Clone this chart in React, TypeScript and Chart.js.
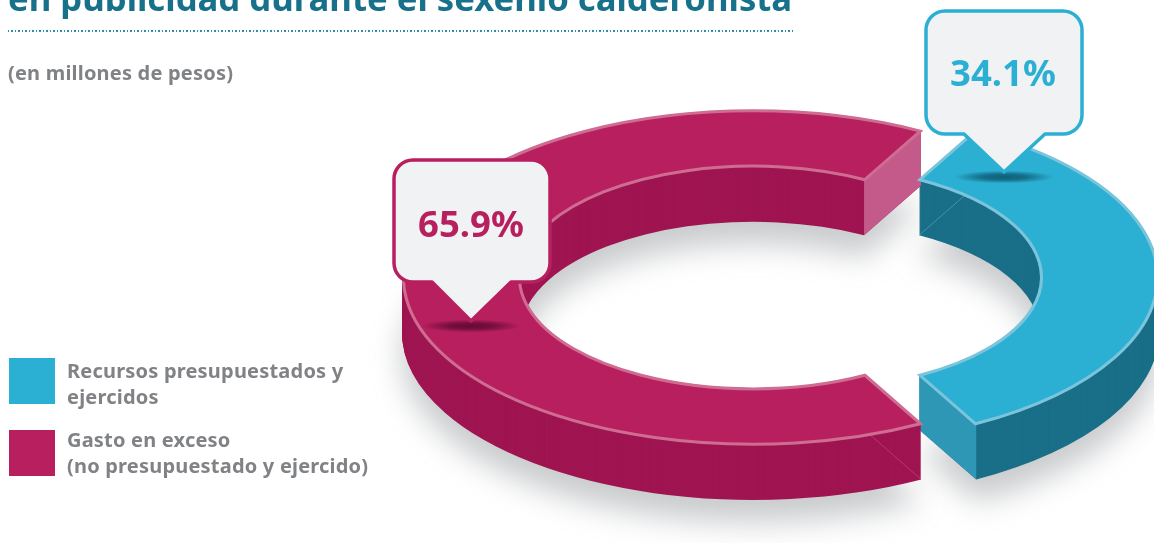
import React, { useEffect, useRef } from "react";
import { Chart, registerables } from "chart.js";

Chart.register(...registerables);

const titleText = "en publicidad durante el sexenio calderonista";
const subtitleText = "(en millones de pesos)";
const categories = ["Recursos presupuestados y\nejercidos", "Gasto en exceso\n(no presupuestado y ejercido)"];
const shares = [34.1, 65.9];
const explode = [55, 0];
const faceColors = ["#2bb0d3", "#b81f5f"];
const edgeColors = ["#7cc4dc", "#cf6c92"];
const wallColors = ["#1a6f88", "#9f1551"];
const capColors = ["#2f97b6", "#c45a8a"];
const calloutFill = "#f1f2f4";

const FACE_CY = 277.5;
const K = 0.477;
const DEPTH = 55;
const START_DEG = 28.6;
const FONT = '"Noto Sans", sans-serif';

const callouts = [
  { box: [926, 11, 1082, 134], tip: [1004, 172], base: [964, 1045], shadow: "#0f5f78", textY: 76 },
  { box: [394, 160, 550, 282], tip: [471, 321], base: [432, 511], shadow: "#650a36", textY: 227 },
];

const project = (el: any, angle: number, r: number, dz: number) => ({
  x: el.x + Math.cos(angle) * r,
  y: FACE_CY + Math.sin(angle) * r * K + dz,
});

const withTransform = (ctx: CanvasRenderingContext2D, el: any, dz: number, fn: () => void) => {
  ctx.save();
  ctx.translate(0, FACE_CY + dz);
  ctx.scale(1, K);
  ctx.translate(0, -el.y);
  fn();
  ctx.restore();
};

const drawAs = (ctx: CanvasRenderingContext2D, el: any, color: string) => {
  const saved = el.options;
  const o = Object.create(saved);
  o.backgroundColor = color;
  o.borderWidth = 0;
  el.options = o;
  el.draw(ctx);
  el.options = saved;
};

const isoPlugin = {
  id: "iso",
  afterDatasetsUpdate(chart: any) {
    chart.getDatasetMeta(0).data.forEach((el: any, i: number) => {
      el.x += explode[i];
    });
  },
  beforeDatasetsDraw(chart: any) {
    const ctx: CanvasRenderingContext2D = chart.ctx;
    const arcs = chart.getDatasetMeta(0).data;
    ctx.save();
    ctx.filter = "blur(15px)";
    for (const el of arcs) {
      withTransform(ctx, el, DEPTH + 22, () => drawAs(ctx, el, "rgba(125,128,134,0.42)"));
    }
    ctx.restore();
    arcs.forEach((el: any, i: number) => {
      for (let dz = DEPTH; dz >= 1; dz--) {
        withTransform(ctx, el, dz, () => drawAs(ctx, el, wallColors[i]));
      }
      const h0 = project(el, el.startAngle, el.innerRadius, DEPTH);
      const h1 = project(el, el.startAngle, el.outerRadius, DEPTH);
      ctx.save();
      ctx.strokeStyle = edgeColors[i];
      ctx.globalAlpha = 0.6;
      ctx.lineWidth = 0.7;
      ctx.beginPath();
      ctx.moveTo(h0.x, h0.y);
      ctx.lineTo(h1.x, h1.y);
      ctx.stroke();
      ctx.restore();
      const c0 = project(el, el.endAngle, el.innerRadius, 0);
      const c1 = project(el, el.endAngle, el.outerRadius, 0);
      ctx.fillStyle = capColors[i];
      ctx.beginPath();
      ctx.moveTo(c0.x, c0.y);
      ctx.lineTo(c1.x, c1.y);
      ctx.lineTo(c1.x, c1.y + DEPTH);
      ctx.lineTo(c0.x, c0.y + DEPTH);
      ctx.closePath();
      ctx.fill();
    });
  },
  beforeDatasetDraw(chart: any) {
    const el = chart.getDatasetMeta(0).data[0];
    const ctx = chart.ctx;
    ctx.save();
    ctx.translate(0, FACE_CY);
    ctx.scale(1, K);
    ctx.translate(0, -el.y);
  },
  afterDatasetDraw(chart: any) {
    const ctx: CanvasRenderingContext2D = chart.ctx;
    ctx.restore();
    chart.getDatasetMeta(0).data.forEach((el: any, i: number) => {
      const inset = 1.5;
      const ro = el.outerRadius - inset;
      const ri = el.innerRadius + inset;
      ctx.save();
      ctx.strokeStyle = edgeColors[i];
      ctx.lineWidth = 3;
      ctx.lineJoin = "miter";
      ctx.beginPath();
      ctx.ellipse(el.x, FACE_CY, ro, ro * K, 0, el.startAngle, el.endAngle);
      ctx.ellipse(el.x, FACE_CY, ri, ri * K, 0, el.endAngle, el.startAngle, true);
      ctx.closePath();
      ctx.stroke();
      ctx.restore();
    });
  },
  afterDraw(chart: any) {
    const ctx: CanvasRenderingContext2D = chart.ctx;
    callouts.forEach((c, i) => {
      const [l, t, r, b] = c.box;
      const [tx, ty] = c.tip;
      const [bl, br] = c.base;
      ctx.save();
      ctx.translate(tx, ty + 5);
      ctx.scale(1, 0.13);
      const g = ctx.createRadialGradient(0, 0, 0, 0, 0, 50);
      g.addColorStop(0, c.shadow);
      g.addColorStop(0.45, c.shadow + "cc");
      g.addColorStop(1, c.shadow + "00");
      ctx.fillStyle = g;
      ctx.beginPath();
      ctx.arc(0, 0, 50, 0, Math.PI * 2);
      ctx.fill();
      ctx.restore();
      const rad = 19;
      ctx.save();
      ctx.beginPath();
      ctx.moveTo(l + rad, t);
      ctx.arcTo(r, t, r, b, rad);
      ctx.arcTo(r, b, l, b, rad);
      ctx.lineTo(br, b);
      ctx.lineTo(tx, ty);
      ctx.lineTo(bl, b);
      ctx.arcTo(l, b, l, t, rad);
      ctx.arcTo(l, t, r, t, rad);
      ctx.closePath();
      ctx.fillStyle = calloutFill;
      ctx.strokeStyle = faceColors[i];
      ctx.lineWidth = 3.5;
      ctx.lineJoin = "round";
      ctx.fill();
      ctx.stroke();
      ctx.fillStyle = faceColors[i];
      ctx.font = `bold 36.5px ${FONT}`;
      ctx.textAlign = "center";
      ctx.textBaseline = "middle";
      ctx.fillText(`${shares[i]}%`, (l + r) / 2 - 1, c.textY);
      ctx.restore();
    });
  },
};

export default function App() {
  const ref = useRef<HTMLCanvasElement>(null);
  useEffect(() => {
    const chart = new Chart(ref.current!, {
      type: "doughnut",
      data: {
        labels: categories,
        datasets: [{ data: shares, backgroundColor: faceColors, borderWidth: 0, clip: false } as any],
      },
      options: {
        responsive: false,
        animation: false,
        rotation: START_DEG,
        radius: 351,
        cutout: "66.1%",
        layout: { padding: { left: 352 } },
        plugins: { legend: { display: false }, tooltip: { enabled: false }, title: { display: false } },
      } as any,
      plugins: [isoPlugin],
    });
    return () => chart.destroy();
  }, []);

  const legendFont: React.CSSProperties = {
    position: "absolute",
    left: 67,
    font: `bold 20px/26px ${FONT}`,
    letterSpacing: 0.2,
    color: "#808285",
    whiteSpace: "pre",
  };
  return (
    <div style={{ position: "fixed", left: 0, top: 0, width: 1154, height: 543, overflow: "hidden", background: "#fff" }}>
      <canvas ref={ref} width={1154} height={543} style={{ position: "absolute", left: 0, top: 0 }} />
      <div style={{ position: "absolute", left: 8, top: -26, font: `bold 34.7px/47px ${FONT}`, color: "#17718a", whiteSpace: "pre" }}>{titleText}</div>
      <div
        style={{
          position: "absolute",
          left: 8,
          top: 30,
          width: 785,
          height: 1.5,
          backgroundImage: "repeating-linear-gradient(90deg, #2a8fa8 0 1.5px, transparent 1.5px 3.5px)",
        }}
      />
      <div style={{ position: "absolute", left: 8, top: 60, font: `bold 20px/26px ${FONT}`, letterSpacing: 0.2, color: "#808285", whiteSpace: "pre" }}>{subtitleText}</div>
      {categories.map((c, i) => (
        <React.Fragment key={c}>
          <div style={{ position: "absolute", left: 9, top: 358 + i * 72, width: 46, height: 46, background: faceColors[i] }} />
          <div style={{ ...legendFont, top: 358 + i * 69 }}>{c}</div>
        </React.Fragment>
      ))}
    </div>
  );
}
